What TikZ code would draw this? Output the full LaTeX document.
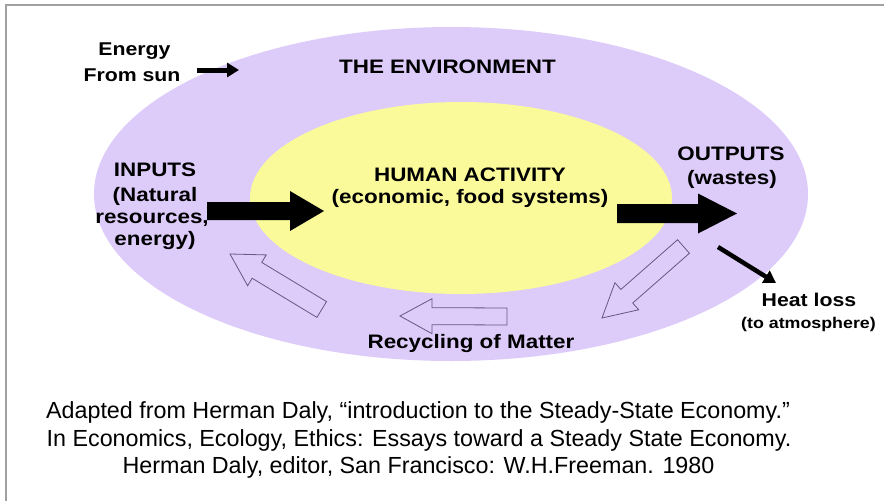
\documentclass[tikz,border=0pt]{standalone}
\usepackage{fontspec}
\setmainfont{Liberation Sans}
\newfontfamily\lblfont[FakeStretch=1.15]{Liberation Sans}
\newfontfamily\citefont{Liberation Sans}
\usetikzlibrary{calc,arrows.meta}
\definecolor{envpurple}{RGB}{221,203,250}
\definecolor{humyellow}{RGB}{250,250,155}
\definecolor{recline}{RGB}{105,85,135}
\definecolor{framegray}{RGB}{160,160,160}

% #1 style, #2 tail coordinate, #3 tip coordinate, #4 shaft half width, #5 head half width, #6 head length
\newcommand\blockarrow[6]{%
  \coordinate (#2-#3-b) at ($(#3)!#6!(#2)$);
  \path[#1] ($(#2)!#4!90:(#3)$) -- ($(#2-#3-b)!#4!90:(#3)$) -- ($(#2-#3-b)!#5!90:(#3)$) -- (#3)
    -- ($(#2-#3-b)!#5!-90:(#3)$) -- ($(#2-#3-b)!#4!-90:(#3)$) -- ($(#2)!#4!-90:(#3)$) -- cycle;}

\begin{document}
\begin{tikzpicture}[x=1pt,y=-1pt,
  lbl/.style={font={\lblfont\bfseries\fontsize{19.5}{22}\selectfont}, anchor=base, inner sep=0pt},
  smlbl/.style={font={\lblfont\bfseries\fontsize{18.5}{20}\selectfont}, anchor=base, inner sep=0pt},
  tinylbl/.style={font={\lblfont\bfseries\fontsize{15.5}{18}\selectfont}, anchor=base, inner sep=0pt},
  cite/.style={font={\citefont\fontsize{23.3}{27}\selectfont}, anchor=base, inner sep=0pt},
  solidarrow/.style={fill=black},
  recarrow/.style={draw=recline, fill=envpurple, line width=0.8pt, line join=miter},
  thinarrow/.style={line width=#1, -{Triangle[length=12pt,width=14pt]}},
]
\useasboundingbox (0,0) rectangle (884,501);
\fill[white] (0,0) rectangle (884,501);
\draw[framegray, line width=1.5pt] (6,501) -- (6,5) -- (884,5);

% ellipses
\fill[envpurple] (451,194) ellipse [x radius=357pt, y radius=167pt];
\fill[humyellow] (461,198) ellipse [x radius=211pt, y radius=96pt];

% labels
\node[lbl] (env) at (447.5,73.3) {THE ENVIRONMENT};
\node[lbl] (hum1) at (470,181.5) {HUMAN ACTIVITY};
\node[lbl] (hum2) at (470,203.5) {(economic, food systems)};
\node[lbl] (in1) at (155,176.5) {INPUTS};
\node[lbl] (in2) at (155,201) {(Natural};
\node[lbl] (in3) at (152,223) {resources,};
\node[lbl] (in4) at (155,245) {energy)};
\node[lbl] (out1) at (731,160) {OUTPUTS};
\node[lbl] (out2) at (732,184) {(wastes)};
\node[smlbl] (en1) at (134.5,55) {Energy};
\node[smlbl] (en2) at (132,81.5) {From sun};
\node[smlbl] (heat1) at (809,306) {Heat loss};
\node[tinylbl] (heat2) at (808.5,328.5) {(to atmosphere)};
\node[lbl] (rec) at (471,348) {Recycling of Matter};

% citation
\node[cite] (c1) at (418,418) {Adapted from Herman Daly, “introduction to the Steady-State Economy.”};
\node[cite] (c2) at (419,446) {In Economics, Ecology, Ethics: Essays toward a Steady State Economy.};
\node[cite] (c3) at (418.5,473.5) {Herman Daly, editor, San Francisco: W.H.Freeman. 1980};

% arrow end points
\coordinate (inT) at (207,211);
\coordinate (inP) at (324,211);
\coordinate (outT) at (617,213.5);
\coordinate (outP) at (737,213.5);
\coordinate (sunT) at (197,70);
\coordinate (sunP) at (239,70);
\coordinate (heatT) at (718,247);
\coordinate (heatP) at (776,283);
\coordinate (rAT) at (683.5,246.5);
\coordinate (rAP) at (602,318);
\coordinate (rBT) at (507,316.5);
\coordinate (rBP) at (400,316);
\coordinate (rCT) at (321.7,309.5);
\coordinate (rCP) at (230,254);

% black block arrows
\blockarrow{solidarrow}{inT}{inP}{9pt}{20pt}{34pt}
\blockarrow{solidarrow}{outT}{outP}{9.5pt}{20pt}{39pt}

% thin black arrows
\draw[thinarrow=5pt] (sunT) -- (sunP);
\draw[thinarrow=4.5pt] (heatT) -- (heatP);

% recycling outline arrows
\blockarrow{recarrow}{rAT}{rAP}{9pt}{18pt}{33pt}
\blockarrow{recarrow}{rBT}{rBP}{8.5pt}{17.5pt}{32pt}
\blockarrow{recarrow}{rCT}{rCP}{9.25pt}{18pt}{31.5pt}
\end{tikzpicture}
\end{document}
